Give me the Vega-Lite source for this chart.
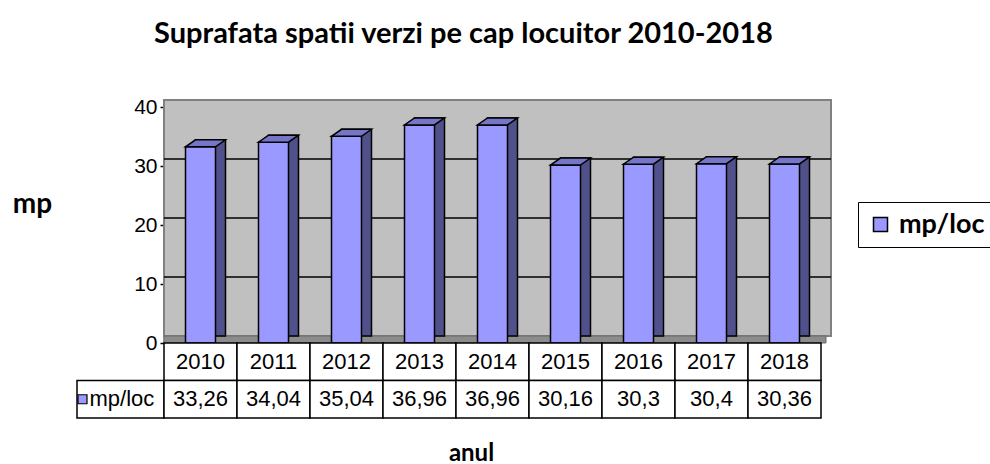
{
  "$schema": "https://vega.github.io/schema/vega-lite/v6.json",
  "background": "white",
  "padding": {"left": 12, "top": 20, "right": 0, "bottom": 0},
  "title": {"text": "Suprafata spatii verzi pe cap locuitor 2010-2018", "anchor": "middle", "font": "Lato", "fontSize": 29, "fontWeight": "bold", "color": "black", "offset": 47, "dx": -40},
  "datasets": {
    "main": [
      {"year": "2010", "value": 33.26},
      {"year": "2011", "value": 34.04},
      {"year": "2012", "value": 35.04},
      {"year": "2013", "value": 36.96},
      {"year": "2014", "value": 36.96},
      {"year": "2015", "value": 30.16},
      {"year": "2016", "value": 30.3},
      {"year": "2017", "value": 30.4},
      {"year": "2018", "value": 30.36}
    ]
  },
  "columns": 2,
  "spacing": 0,
  "bounds": "flush",
  "concat": [
    {
      "width": 87, "height": 236,
      "data": {"values": []},
      "mark": "text",
      "encoding": {"text": {"value": ""}}
    },
    {
      "width": 657, "height": 236,
      "layer": [
        {
          "data": {"values": [{}]},
          "mark": {"type": "rect", "fill": "#c0c0c0", "stroke": "#808080", "strokeWidth": 2, "xOffset": 10, "x2Offset": 10, "yOffset": -7, "y2Offset": -7},
          "encoding": {"y": {"datum": 0, "type": "quantitative"}, "y2": {"datum": 40}}
        },
        {
          "data": {"values": [{}]},
          "mark": {"type": "rect", "fill": "#8c8c8c", "stroke": "#6a6a6a", "strokeWidth": 1, "xOffset": 5, "x2Offset": 5, "yOffset": 0, "y2Offset": -7},
          "encoding": {"y": {"datum": 0, "type": "quantitative"}, "y2": {"datum": 0}}
        },
        {
          "data": {"values": [{"g": 10}, {"g": 20}, {"g": 30}]},
          "mark": {"type": "rule", "color": "black", "strokeWidth": 1.5, "xOffset": 10, "x2Offset": 10, "yOffset": -7},
          "encoding": {"y": {"field": "g", "type": "quantitative"}}
        },
        {
          "data": {"name": "main"},
          "mark": {"type": "bar", "width": 30, "fill": "#50508a", "stroke": "black", "strokeWidth": 1.5, "xOffset": 10, "yOffset": -7, "y2Offset": -7},
          "encoding": {
            "x": {"field": "year", "type": "ordinal", "axis": null, "scale": {"paddingInner": 0, "paddingOuter": 0}},
            "y": {"field": "value", "type": "quantitative", "scale": {"domain": [0, 40], "nice": false},
                  "axis": {"values": [0, 10, 20, 30, 40], "title": "mp", "titleAngle": 0, "titleX": -132, "titleY": 97, "titleAlign": "center", "titleBaseline": "middle", "titleFont": "Lato", "titleFontSize": 28, "titleFontWeight": "bold", "titleColor": "black",
                           "labelFont": "Liberation Sans", "labelFontSize": 21, "labelColor": "black", "labelPadding": 3, "tickColor": "black", "tickSize": 4, "tickWidth": 1.5, "domainColor": "black", "domainWidth": 1.5, "grid": false}}
          }
        },
        {
          "data": {"name": "main"},
          "mark": {"type": "bar", "width": 30, "stroke": "black", "strokeWidth": 1.5, "opacity": 1},
          "encoding": {
            "x": {"field": "year", "type": "ordinal"},
            "y": {"field": "value", "type": "quantitative"},
            "color": {"datum": "mp/loc", "scale": {"range": ["#9999ff"]},
                      "legend": {"title": null, "orient": "none", "legendX": 781, "legendY": 95, "strokeColor": "black", "fillColor": "white", "padding": 9, "symbolType": "square", "symbolSize": 196, "symbolStrokeColor": "black", "symbolStrokeWidth": 1.5, "symbolOpacity": 1, "labelFont": "Lato", "labelFontWeight": "bold", "labelFontSize": 27, "labelColor": "black", "labelOffset": 5}}
          }
        },
        {
          "data": {"name": "main"},
          "mark": {"type": "point", "shape": "M -15 0 L 15 0 L 25 -7 L -5 -7 Z", "size": 4, "filled": true, "fill": "#7676c8", "stroke": "black", "strokeWidth": 1.5, "opacity": 1},
          "encoding": {
            "x": {"field": "year", "type": "ordinal"},
            "y": {"field": "value", "type": "quantitative"}
          }
        }
      ]
    },
    {
      "width": 87, "height": 75,
      "layer": [
        {
          "data": {"values": [{}]},
          "mark": {"type": "rect", "fill": "white", "stroke": "black", "strokeWidth": 1.5},
          "encoding": {"y": {"datum": "r2", "type": "nominal", "scale": {"domain": ["r1", "r2"], "paddingInner": 0, "paddingOuter": 0}, "axis": null}}
        },
        {
          "data": {"values": [{}]},
          "mark": {"type": "point", "shape": "square", "size": 81, "filled": true, "fill": "#9999ff", "stroke": "black", "strokeWidth": 1.2, "opacity": 1, "xOffset": -38},
          "encoding": {"y": {"datum": "r2", "type": "nominal"}}
        },
        {
          "data": {"values": [{}]},
          "mark": {"type": "text", "align": "left", "baseline": "middle", "font": "Liberation Sans", "fontSize": 22, "color": "black", "dx": -31},
          "encoding": {"y": {"datum": "r2", "type": "nominal"}, "text": {"value": "mp/loc"}}
        }
      ]
    },
    {
      "width": 657, "height": 75,
      "data": {"name": "main"},
      "encoding": {
        "x": {"field": "year", "type": "ordinal", "scale": {"paddingInner": 0, "paddingOuter": 0},
              "axis": {"title": "anul", "labels": false, "ticks": false, "domain": false, "titlePadding": 23, "titleX": 307, "titleFont": "Lato", "titleFontSize": 24, "titleFontWeight": "bold", "titleColor": "black"}}
      },
      "layer": [
        {
          "mark": {"type": "rect", "fill": "white", "stroke": "black", "strokeWidth": 1.5},
          "encoding": {"y": {"datum": "r1", "type": "nominal", "scale": {"domain": ["r1", "r2"], "paddingInner": 0, "paddingOuter": 0}, "axis": null}}
        },
        {
          "mark": {"type": "rect", "fill": "white", "stroke": "black", "strokeWidth": 1.5},
          "encoding": {"y": {"datum": "r2", "type": "nominal"}}
        },
        {
          "mark": {"type": "text", "font": "Liberation Sans", "fontSize": 22, "color": "black", "baseline": "middle"},
          "encoding": {"y": {"datum": "r1", "type": "nominal"}, "text": {"field": "year"}}
        },
        {
          "mark": {"type": "text", "font": "Liberation Sans", "fontSize": 22, "color": "black", "baseline": "middle"},
          "encoding": {"y": {"datum": "r2", "type": "nominal"}, "text": {"field": "value", "type": "quantitative", "format": ".2~f"}}
        }
      ]
    }
  ],
  "resolve": {"scale": {"x": "independent", "y": "independent"}},
  "config": {
    "view": {"stroke": null},
    "locale": {"number": {"decimal": ",", "thousands": ".", "grouping": [3], "currency": ["", " €"]}}
  }
}
